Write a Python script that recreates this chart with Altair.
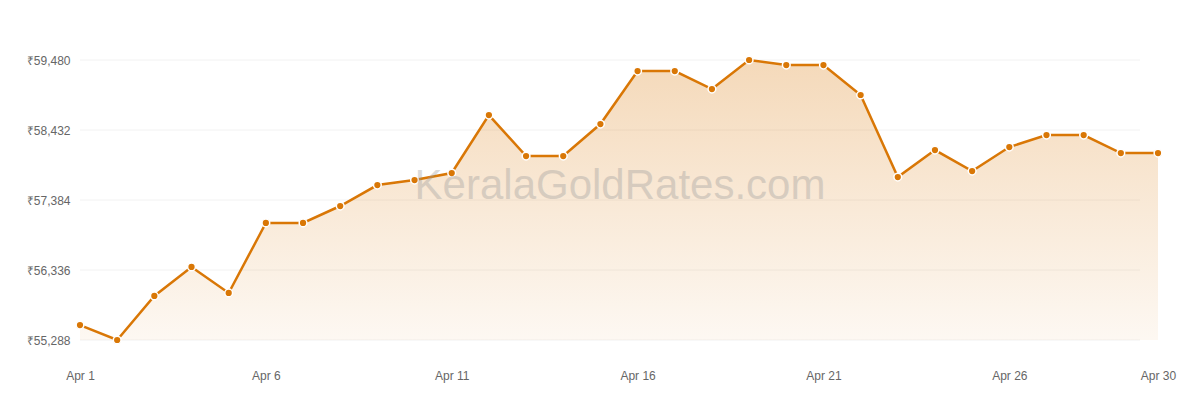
import altair as alt
import pandas as pd

days = list(range(1, 31))
prices = [55512, 55288, 55947, 56381, 55992, 57040, 57040, 57294, 57608, 57683,
          57788, 58656, 58042, 58042, 58521, 59315, 59315, 59045, 59480, 59405,
          59405, 58956, 57728, 58132, 57818, 58177, 58357, 58357, 58087, 58087]
tick_days = [1, 6, 11, 16, 21, 26, 30]
y_ticks = [55288, 56336, 57384, 58432, 59480]

df = pd.DataFrame({"day": days, "price": prices})
gdf = pd.DataFrame({"price": y_ticks})

xs = alt.Scale(domain=[1, 30], range=[0, 1078], nice=False, zero=False)
ys = alt.Scale(domain=[55288, 59480], nice=False, zero=False)

x_enc = alt.X("day:Q", scale=xs, axis=alt.Axis(
    values=tick_days, labelExpr="'Apr ' + datum.value", title=None,
    grid=False, domain=False, ticks=False, labelPadding=30, labelFlush=False,
    labelColor="#666666", labelFont="Liberation Sans", labelFontSize=12))
y_enc = alt.Y("price:Q", scale=ys, axis=alt.Axis(
    values=y_ticks, labelExpr="'₹' + format(datum.value, ',')", title=None,
    grid=False, domain=False, ticks=False, labelPadding=10,
    labelColor="#666666", labelFont="Liberation Sans", labelFontSize=12))

grid = alt.Chart(gdf).mark_rule(color="#f2f2f2", strokeWidth=1).encode(
    y=y_enc, x=alt.value(0), x2=alt.value(1060))

base = alt.Chart(df)

area = base.mark_area(
    clip=False,
    color=alt.Gradient(
        gradient="linear",
        stops=[alt.GradientStop(color="rgba(217,119,6,0.28)", offset=0),
               alt.GradientStop(color="rgba(217,119,6,0.05)", offset=1)],
        x1=1, x2=1, y1=0, y2=1)
).encode(x=x_enc, y=y_enc, y2=alt.datum(55288))

line = base.mark_line(color="#d97706", strokeWidth=2.5, clip=False).encode(x=x_enc, y=y_enc)
pts = base.mark_point(filled=True, color="#d97706", size=60, stroke="white",
                      strokeWidth=1.5, opacity=1, clip=False).encode(x=x_enc, y=y_enc)

wm = alt.Chart(pd.DataFrame({"t": ["KeralaGoldRates.com"]})).mark_text(
    font="Liberation Sans", fontSize=42, color="#999999", opacity=0.35,
    align="center", baseline="middle"
).encode(text="t:N", x=alt.value(540), y=alt.value(126))

chart = (grid + area + line + pts + wm).properties(
    width=1060, height=280,
    autosize=alt.AutoSizeParams(type="none"),
    padding={"left": 72, "top": 52, "right": 52, "bottom": 52}
).configure_view(stroke=None)

chart.save("out.html", embed_options={"renderer": "svg", "actions": False})
